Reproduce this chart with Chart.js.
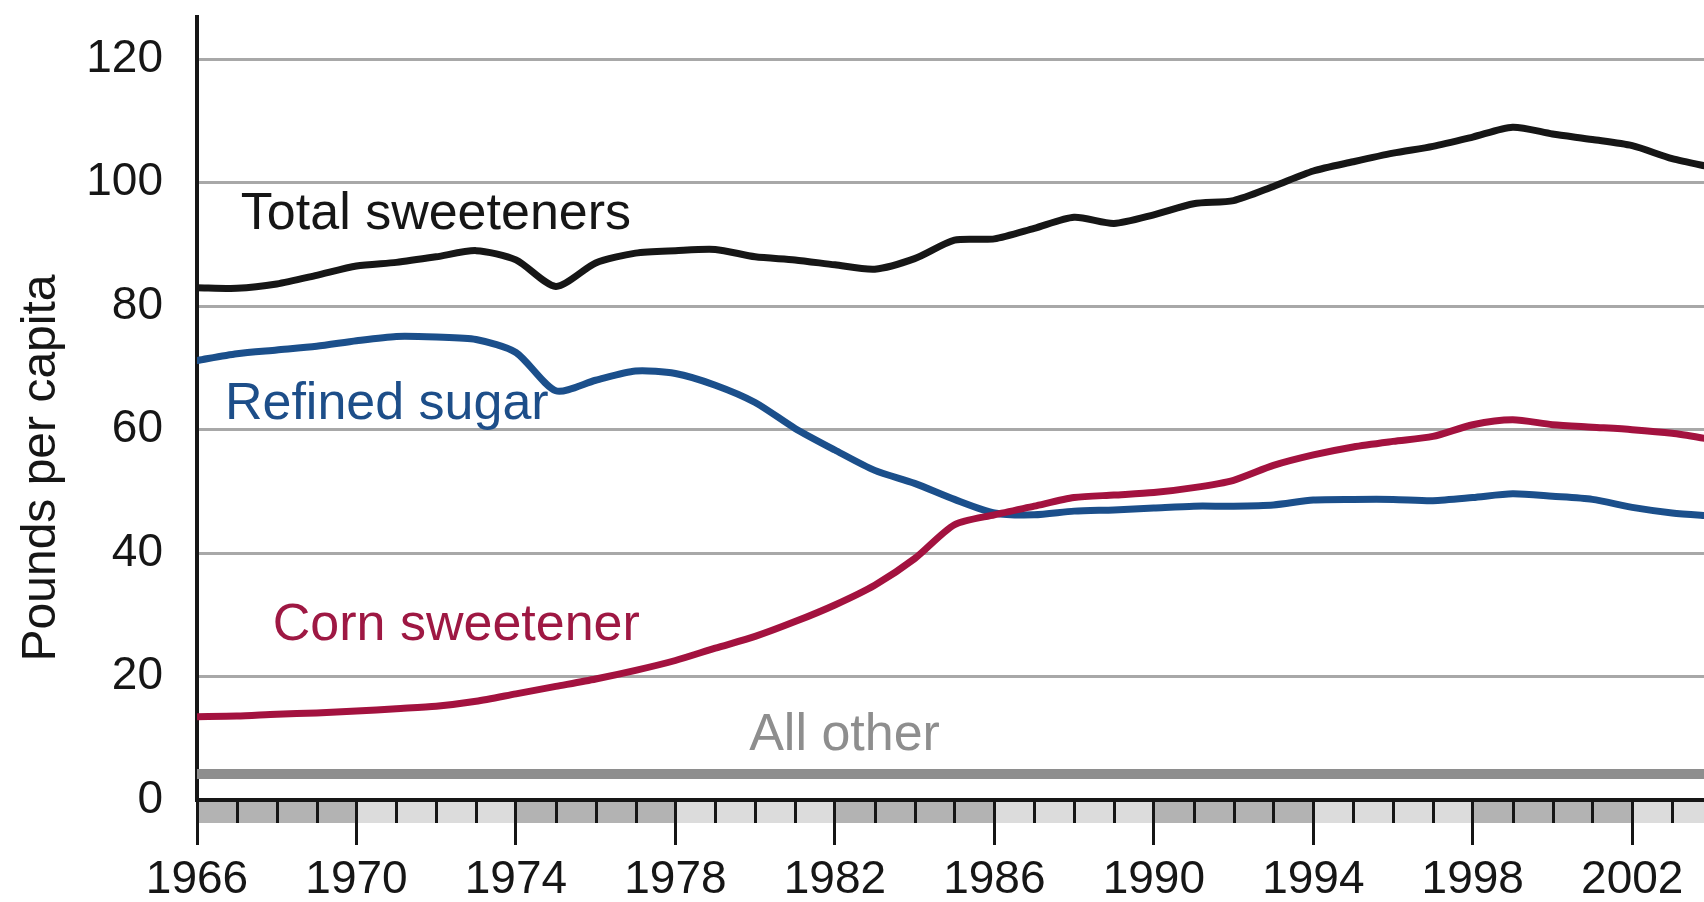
<!DOCTYPE html>
<html lang="en">
<head>
    <meta charset="UTF-8" />
    <title>Sweetener deliveries per capita</title>
    <script src="https://cdn.jsdelivr.net/npm/chart.js"></script>
    <style>
        html, body { margin: 0; padding: 0; background: #fff; }
        .wrap { width: 1704px; height: 902px; position: relative; }
    </style>
</head>
<body>
    <div class="wrap">
        <canvas id="sweetChart"></canvas>
    </div>

    <script>
        // years on the x axis, one point per year
        const years = [1966, 1967, 1968, 1969, 1970, 1971, 1972, 1973, 1974, 1975,
            1976, 1977, 1978, 1979, 1980, 1981, 1982, 1983, 1984, 1985,
            1986, 1987, 1988, 1989, 1990, 1991, 1992, 1993, 1994, 1995,
            1996, 1997, 1998, 1999, 2000, 2001, 2002, 2003, 2004];

        const totalSweeteners = [83.0, 82.9, 83.6, 85.0, 86.5, 87.1, 88.0, 89.0, 87.5, 83.2,
            87.0, 88.6, 89.0, 89.2, 88.0, 87.5, 86.7, 86.0, 87.7, 90.7,
            90.9, 92.6, 94.4, 93.4, 94.8, 96.6, 97.1, 99.4, 101.9, 103.4,
            104.8, 105.9, 107.4, 109.0, 107.9, 107.0, 106.0, 103.9, 102.5];

        const refinedSugar = [71.2, 72.3, 72.9, 73.5, 74.4, 75.1, 75.0, 74.6, 72.5, 66.3,
            68.0, 69.5, 69.1, 67.2, 64.4, 60.2, 56.7, 53.4, 51.3, 48.7,
            46.5, 46.2, 46.8, 47.0, 47.3, 47.6, 47.6, 47.8, 48.6, 48.7,
            48.7, 48.5, 49.0, 49.6, 49.2, 48.7, 47.4, 46.5, 46.0];

        const cornSweetener = [13.5, 13.6, 13.9, 14.1, 14.4, 14.8, 15.2, 16.0, 17.2, 18.4,
            19.6, 21.0, 22.6, 24.6, 26.5, 28.9, 31.6, 34.8, 39.1, 44.6,
            46.2, 47.6, 49.0, 49.4, 49.8, 50.6, 51.8, 54.2, 55.9, 57.2,
            58.1, 58.9, 60.8, 61.6, 60.8, 60.4, 60.0, 59.4, 58.4];

        const allOther = [4.2, 4.2, 4.2, 4.2, 4.2, 4.2, 4.2, 4.2, 4.2, 4.2,
            4.2, 4.2, 4.2, 4.2, 4.2, 4.2, 4.2, 4.2, 4.2, 4.2,
            4.2, 4.2, 4.2, 4.2, 4.2, 4.2, 4.2, 4.2, 4.2, 4.2,
            4.2, 4.2, 4.2, 4.2, 4.2, 4.2, 4.2, 4.2, 4.2];

        const xTickLabels = [1966, 1970, 1974, 1978, 1982, 1986, 1990, 1994, 1998, 2002];
        const yTickLabels = [0, 20, 40, 60, 80, 100, 120];

        const FONT = "'Liberation Sans', Arial, sans-serif";

        // series names written on the plot, anchored in data units (left edge, baseline)
        const seriesLabels = [
            { text: "Total sweeteners", x: 1967.1, y: 92.5, color: "#161616" },
            { text: "Refined sugar", x: 1966.7, y: 61.7, color: "#1d4e89" },
            { text: "Corn sweetener", x: 1967.9, y: 25.9, color: "#9e1843" },
            { text: "All other", x: 1979.85, y: 8.1, color: "#8e8e8e" }
        ];

        function toPoints(values) {
            return values.map((v, i) => ({ x: years[i], y: v }));
        }

        // GRAY BAND UNDER THE X AXIS, MINOR TICKS, LABELS, Y TITLE
        const decor = {
            id: "decor",
            beforeDraw(chart) {
                const ctx = chart.ctx;
                const area = chart.chartArea;
                const xs = chart.scales.x;
                const bandH = 23;
                ctx.save();
                for (let i = 0; i < xTickLabels.length; i++) {
                    const x0 = xs.getPixelForValue(xTickLabels[i]);
                    const x1 = i + 1 < xTickLabels.length ? xs.getPixelForValue(xTickLabels[i + 1]) : area.right;
                    ctx.fillStyle = i % 2 === 0 ? "#b3b3b3" : "#dcdcdc";
                    ctx.fillRect(x0, area.bottom, x1 - x0, bandH);
                }
                ctx.strokeStyle = "#161616";
                ctx.lineWidth = 3;
                for (let yr = years[0]; yr <= xs.max; yr++) {
                    if (xTickLabels.includes(yr)) continue;
                    const px = Math.round(xs.getPixelForValue(yr)) + 0.5;
                    ctx.beginPath();
                    ctx.moveTo(px, area.bottom);
                    ctx.lineTo(px, area.bottom + bandH);
                    ctx.stroke();
                }
                ctx.restore();
            },
            afterDraw(chart) {
                const ctx = chart.ctx;
                const xs = chart.scales.x;
                const ys = chart.scales.y;
                ctx.save();
                ctx.font = "52px " + FONT;
                ctx.textAlign = "left";
                ctx.textBaseline = "alphabetic";
                seriesLabels.forEach(l => {
                    ctx.fillStyle = l.color;
                    ctx.fillText(l.text, xs.getPixelForValue(l.x), ys.getPixelForValue(l.y));
                });

                // axis title, a little below the middle of the axis as in the original
                ctx.translate(42, 468);
                ctx.rotate(-Math.PI / 2);
                ctx.font = "48px " + FONT;
                ctx.fillStyle = "#161616";
                ctx.textAlign = "center";
                ctx.textBaseline = "middle";
                ctx.fillText("Pounds per capita", 0, 0);
                ctx.restore();
            }
        };

        function lineSet(label, values, color, width) {
            return {
                label: label,
                data: toPoints(values),
                borderColor: color,
                borderWidth: width,
                pointRadius: 0,
                tension: 0.25,
                borderJoinStyle: "round",
                borderCapStyle: "round",
                clip: 0
            };
        }

        new Chart(document.getElementById("sweetChart"), {
            type: "line",
            data: {
                datasets: [
                    lineSet("All other", allOther, "#8e8e8e", 10),
                    lineSet("Corn sweetener", cornSweetener, "#a3123f", 7),
                    lineSet("Refined sugar", refinedSugar, "#1b4f8b", 7),
                    lineSet("Total sweeteners", totalSweeteners, "#161616", 7)
                ]
            },
            options: {
                responsive: true,
                maintainAspectRatio: false,
                animation: false,
                layout: { padding: { top: 17, left: 0, right: 0, bottom: 0 } },
                plugins: {
                    legend: { display: false },
                    tooltip: { enabled: false }
                },
                scales: {
                    x: {
                        type: "linear",
                        min: 1966,
                        max: 2003.8,
                        afterBuildTicks: s => { s.ticks = xTickLabels.map(v => ({ value: v })); },
                        afterFit: s => { s.paddingLeft = 0; s.paddingRight = 0; s.height = 102; },
                        ticks: {
                            autoSkip: false,
                            maxRotation: 0,
                            padding: 21,
                            color: "#161616",
                            font: { family: FONT, size: 46, lineHeight: 0.62 },
                            callback: v => String(v)
                        },
                        grid: {
                            drawOnChartArea: false,
                            drawTicks: true,
                            tickLength: 45,
                            tickColor: "#161616",
                            tickWidth: 3
                        },
                        border: { color: "#161616", width: 4 }
                    },
                    y: {
                        min: 0,
                        max: 126.85,
                        afterBuildTicks: s => { s.ticks = yTickLabels.map(v => ({ value: v })); },
                        afterFit: s => { s.width = 197; s.paddingTop = 0; s.paddingBottom = 0; },
                        ticks: {
                            padding: 34,
                            color: "#161616",
                            font: { family: FONT, size: 46 },
                            callback: v => String(v)
                        },
                        grid: {
                            drawTicks: false,
                            color: ctx => ctx.tick && ctx.tick.value === 0 ? "rgba(0,0,0,0)" : "#a8a8a8",
                            lineWidth: 3
                        },
                        border: { color: "#161616", width: 4 }
                    }
                }
            },
            plugins: [decor]
        });
    </script>
</body>
</html>
